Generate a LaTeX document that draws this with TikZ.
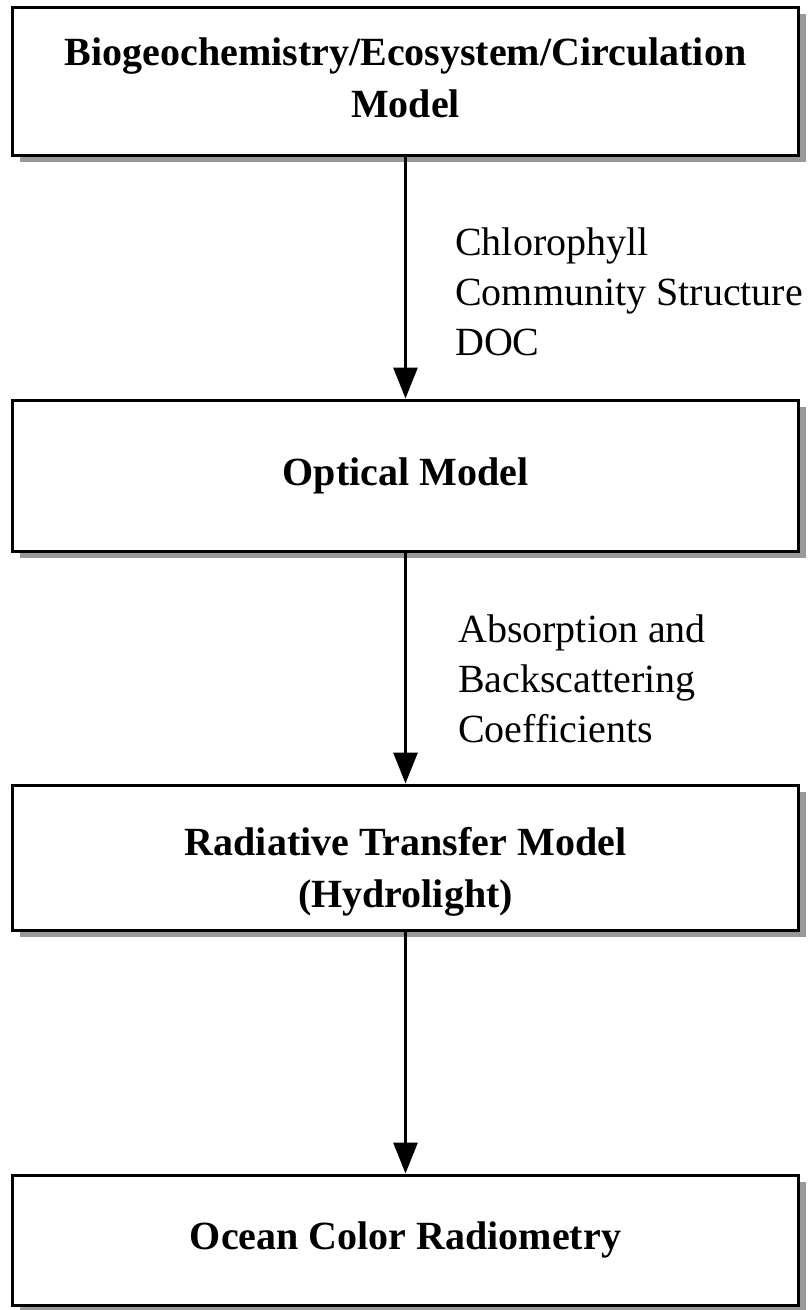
\documentclass[tikz,border=0pt]{standalone}
\usepackage{fontspec}
\setmainfont{Liberation Serif}
\usetikzlibrary{arrows.meta,shadows}
\begin{document}
\begin{tikzpicture}[x=1pt,y=-1pt,
  box/.style={draw=black, line width=3pt, fill=white, minimum width=786pt,
    inner sep=0pt, align=center,
    font=\fontsize{40}{52}\selectfont\bfseries,
    drop shadow={shadow xshift=7pt, shadow yshift=-7pt, fill=black!40, opacity=1}},
  flow/.style={line width=3pt, -{Triangle[width=24pt,length=31pt]}},
  lbl/.style={inner sep=0pt, align=left, font=\fontsize{40}{50}\selectfont}]
\useasboundingbox (0,0) rectangle (809,1310);
\node[box, minimum height=148pt, text height=72pt, text depth=0pt] (b1) at (405.5,81) {Biogeochemistry/Ecosystem/Circulation\\Model};
\node[box, minimum height=151pt] (b2) at (405.5,475.5) {Optical Model};
\node[box, minimum height=145pt, text height=99pt, text depth=0pt] (b3) at (405.5,857.5) {Radiative Transfer Model\\(Hydrolight)};
\node[box, minimum height=130pt] (b4) at (405.5,1240) {Ocean Color Radiometry};
\draw[flow] (b1.south) -- (b2.north);
\draw[flow] (b2.south) -- (b3.north);
\draw[flow] (b3.south) -- (b4.north);
\node[lbl, anchor=base west] (l1) at (455,355) {Chlorophyll\\Community Structure\\DOC};
\node[lbl, anchor=base west] (l2) at (458,742) {Absorption and\\Backscattering\\Coefficients};
\end{tikzpicture}
\end{document}
